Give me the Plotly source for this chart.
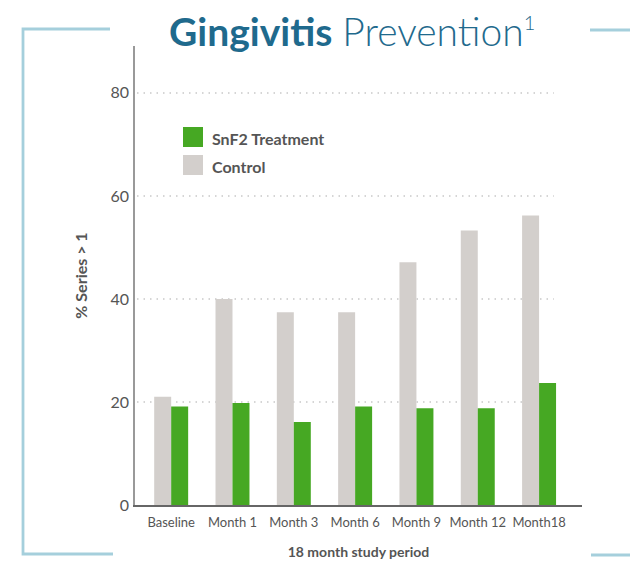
import plotly.graph_objects as go

categories = ["Baseline", "Month 1", "Month 3", "Month 6", "Month 9", "Month 12", "Month18"]
control = [21.0, 40.0, 37.4, 37.4, 47.1, 53.3, 56.2]
snf2 = [19.1, 19.8, 16.1, 19.1, 18.8, 18.8, 23.7]
y_ticks = [0, 20, 40, 60, 80]
series_names = ["SnF2 Treatment", "Control"]

GREEN = "#46a823"
GRAY = "#d3cfcc"
TEXT = "#555555"
BRACKET = "#a5cfdc"
TITLE = "#1f6a8d"
FONT = "Lato"

# page has an 8px body margin; lay out in page pixels
OFF = 8
PAGE_W, PAGE_H = 638, 566
PL, PT, PR, PB = 135, 46, 582, 505  # plot area in page pixels
W, H = PAGE_W - OFF, PAGE_H - OFF
L, T = PL - OFF, PT - OFF
R, B = PAGE_W - PR, PAGE_H - PB
PW, PH = PR - PL, PB - PT


def px(x):
    return (x - PL) / PW


def py(y):
    return (PB - y) / PH


fig = go.Figure()
fig.add_trace(go.Bar(x=list(range(len(categories))), y=control, name=series_names[1],
                     marker=dict(color=GRAY, line=dict(width=0)), showlegend=False))
fig.add_trace(go.Bar(x=list(range(len(categories))), y=snf2, name=series_names[0],
                     marker=dict(color=GREEN, line=dict(width=0)), showlegend=False))

shapes = []
# dotted gridlines
for t in y_ticks[1:]:
    shapes.append(dict(type="line", xref="x", yref="y", x0=-0.557, x1=6.24, y0=t, y1=t,
                       line=dict(color="#c8c8c8", width=1.5, dash="1.5px,5px"), layer="below"))
# brackets
shapes.append(dict(type="path", xref="paper", yref="paper",
                   path=f"M {px(110)} {py(29)} L {px(23)} {py(29)} L {px(23)} {py(554)} L {px(113)} {py(554)}",
                   line=dict(color=BRACKET, width=2.8)))
shapes.append(dict(type="line", xref="paper", yref="paper", x0=px(590), x1=px(640), y0=py(30), y1=py(30),
                   line=dict(color=BRACKET, width=2.8)))
shapes.append(dict(type="line", xref="paper", yref="paper", x0=px(591), x1=px(640), y0=py(555), y1=py(555),
                   line=dict(color=BRACKET, width=2.8)))

# legend squares
legend_colors = [GREEN, GRAY]
annotations = []
for i, (nm, col) in enumerate(zip(series_names, legend_colors)):
    top = 127 + i * 28
    shapes.append(dict(type="rect", xref="paper", yref="paper", x0=px(183), x1=px(203),
                       y0=py(top + 20), y1=py(top), fillcolor=col, line=dict(width=0)))
    annotations.append(dict(xref="paper", yref="paper", x=px(210), y=py(top + 11), text=f"<b>{nm}</b>",
                            showarrow=False, xanchor="left", yanchor="middle",
                            font=dict(family=FONT, size=16, color=TEXT)))

# title
annotations.append(dict(xref="paper", yref="paper", x=px(352), y=py(31),
                        text="<b>Gingivitis</b> <span style='font-weight:300'>Prevention<sup><span style='font-size:20px'>1</span></sup></span>",
                        showarrow=False, xanchor="center", yanchor="middle",
                        font=dict(family=FONT, size=39, color=TITLE)))

fig.update_layout(
    width=W, height=H,
    margin=dict(l=L, r=R, t=T, b=B, pad=0, autoexpand=False),
    paper_bgcolor="white", plot_bgcolor="white",
    barmode="group", bargap=0.446, bargroupgap=0,
    font=dict(family=FONT, color=TEXT),
    shapes=shapes, annotations=annotations,
    xaxis=dict(range=[-0.59, 6.70], tickmode="array", tickvals=list(range(len(categories))),
               ticktext=categories, showgrid=False, zeroline=False, automargin=False,
               showline=True, linecolor="#666666", linewidth=1.6, ticks="", ticklabelstandoff=5,
               tickfont=dict(family=FONT, size=13, color=TEXT),
               title=dict(text="<b>18 month study period</b>", standoff=18,
                          font=dict(family=FONT, size=14, color=TEXT))),
    yaxis=dict(range=[0, 89.1], tickmode="array", tickvals=y_ticks, showgrid=False, zeroline=False,
               automargin=False,
               showline=True, linecolor="#999999", linewidth=1.6, ticks="", ticklabelstandoff=1,
               tickfont=dict(family=FONT, size=16, color=TEXT),
               title=dict(text="<b>% Series > 1</b>", standoff=19,
                          font=dict(family=FONT, size=16, color=TEXT))),
)

fig.write_html("out.html")
